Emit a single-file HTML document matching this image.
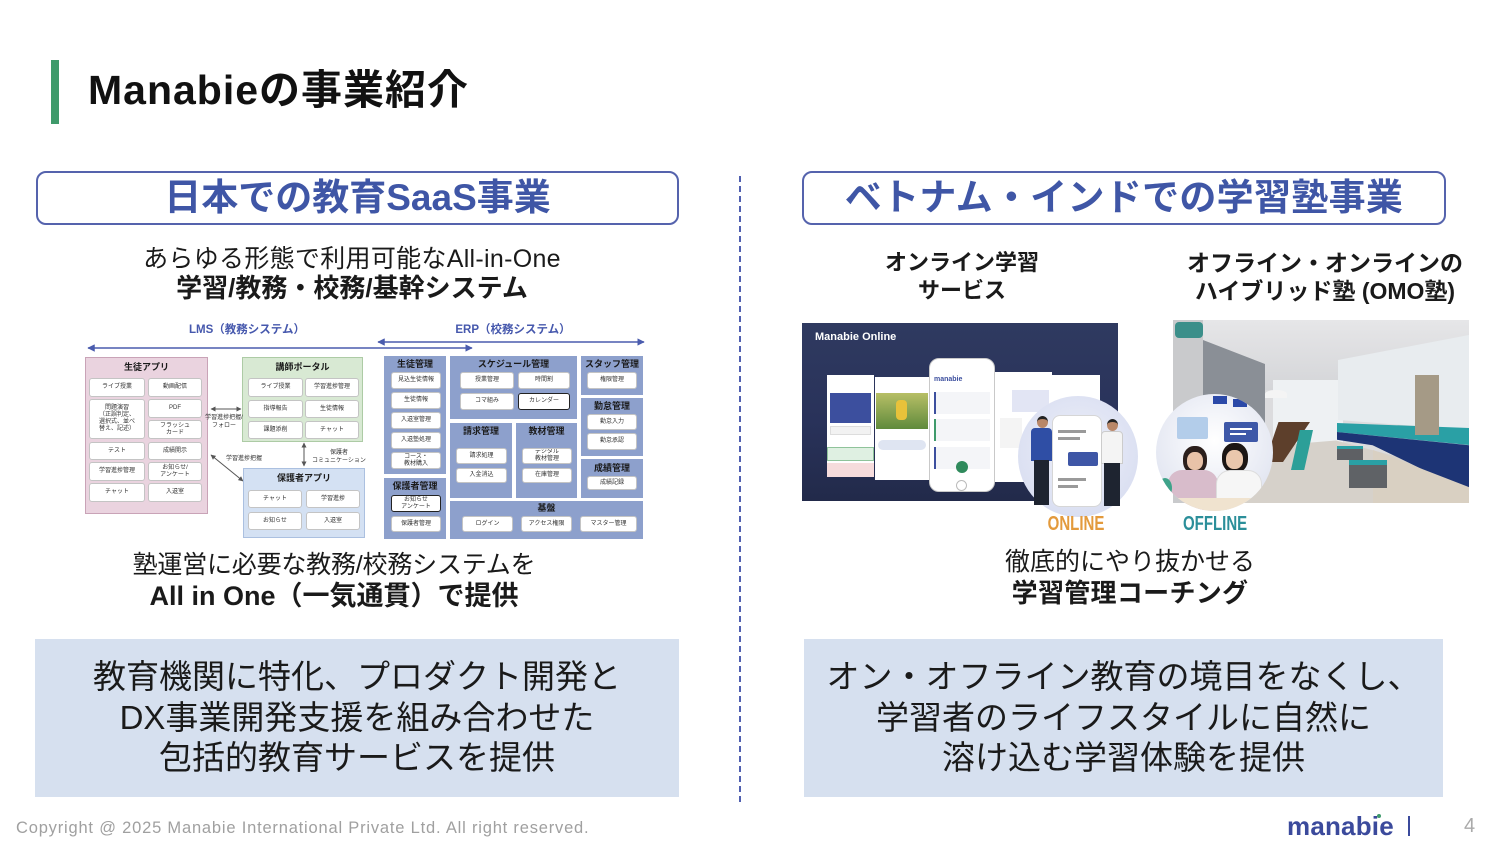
<!DOCTYPE html>
<html><head><meta charset="utf-8">
<style>
*{margin:0;padding:0;box-sizing:border-box}
body{width:1500px;height:845px;background:#fff;position:relative;overflow:hidden;font-family:"Liberation Sans","Noto Sans CJK JP",sans-serif;color:#1a1a1a}
.a{position:absolute}
.t{position:absolute;white-space:nowrap;text-align:center}
.hb{position:absolute;border:2px solid #5563ad;border-radius:10px;}
.b{position:absolute;background:#fff;border:1px solid #c4c4c4;border-radius:3px;display:flex;align-items:center;justify-content:center;text-align:center;font-size:6px;line-height:7px;color:#333;white-space:nowrap;overflow:hidden}
.bk{border-color:#222}
.bt{position:absolute;font-size:9px;font-weight:bold;text-align:center;line-height:10px;color:#1a1a1a;white-space:nowrap}
.e{position:absolute;background:#8da0cc}
.sm{position:absolute;font-size:6px;line-height:8px;color:#333;white-space:nowrap;text-align:center}
</style></head><body>

<!-- Header -->
<div class="a" style="left:51px;top:60px;width:8px;height:64px;background:#3f9a6b"></div>
<div class="t" style="left:88px;top:66px;font-size:41px;line-height:48px;font-weight:bold;color:#111;text-align:left;letter-spacing:1px">Manabieの事業紹介</div>

<!-- Section title boxes -->
<div class="hb" style="left:36px;top:171px;width:643px;height:54px"></div>
<div class="t" style="left:36px;top:175px;width:643px;font-size:37px;line-height:46px;font-weight:bold;color:#3f56a6">日本での教育SaaS事業</div>
<div class="hb" style="left:802px;top:171px;width:644px;height:54px"></div>
<div class="t" style="left:802px;top:175px;width:644px;font-size:37px;line-height:46px;font-weight:bold;color:#3f56a6;letter-spacing:0.3px">ベトナム・インドでの学習塾事業</div>

<!-- Dashed divider + arrows -->
<svg class="a" style="left:0;top:0" width="1500" height="845">
<defs>
<marker id="ah" viewBox="0 0 10 10" refX="9" refY="5" markerWidth="5" markerHeight="5" orient="auto-start-reverse"><path d="M0,0L10,5L0,10z" fill="#4a5cae"/></marker>
<marker id="ag" viewBox="0 0 10 10" refX="9" refY="5" markerWidth="5" markerHeight="5" orient="auto-start-reverse"><path d="M0,0L10,5L0,10z" fill="#555"/></marker>
</defs>
<line x1="740" y1="176" x2="740" y2="805" stroke="#5060b0" stroke-width="2" stroke-dasharray="6,4"/>
<line x1="88" y1="348" x2="472" y2="348" stroke="#4a5cae" stroke-width="1.5" marker-start="url(#ah)" marker-end="url(#ah)"/>
<line x1="378" y1="342" x2="644" y2="342" stroke="#4a5cae" stroke-width="1.5" marker-start="url(#ah)" marker-end="url(#ah)"/>
<line x1="211" y1="409" x2="241" y2="409" stroke="#555" stroke-width="1" marker-start="url(#ag)" marker-end="url(#ag)"/>
<line x1="211" y1="455" x2="243" y2="481" stroke="#555" stroke-width="1" marker-start="url(#ag)" marker-end="url(#ag)"/>
<line x1="304" y1="443" x2="304" y2="466" stroke="#555" stroke-width="1" marker-start="url(#ag)" marker-end="url(#ag)"/>
</svg>

<!-- Left subtitle -->
<div class="t" style="left:52px;top:244px;width:600px;font-size:25px;line-height:30px;letter-spacing:0.3px">あらゆる形態で利用可能なAll-in-One</div>
<div class="t" style="left:52px;top:273px;width:600px;font-size:26px;line-height:30px;font-weight:bold">学習/教務・校務/基幹システム</div>

<!-- LMS / ERP labels -->
<div class="t" style="left:167px;top:323px;width:160px;font-size:11.5px;line-height:14px;font-weight:bold;color:#4658ad">LMS（教務システム）</div>
<div class="t" style="left:433px;top:323px;width:160px;font-size:11.5px;line-height:14px;font-weight:bold;color:#4658ad">ERP（校務システム）</div>

<!-- 生徒アプリ -->
<div class="a" style="left:85px;top:357px;width:123px;height:157px;background:#ead3df;border:1px solid #c9a3b7"></div>
<div class="bt" style="left:85px;top:362px;width:123px">生徒アプリ</div>
<div class="b" style="left:89px;top:378px;width:56px;height:19px">ライブ授業</div>
<div class="b" style="left:148px;top:378px;width:54px;height:19px">動画配信</div>
<div class="b" style="left:89px;top:399px;width:56px;height:40px">問題演習<br>（正誤判定、<br>選択式、並べ<br>替え、記述）</div>
<div class="b" style="left:148px;top:399px;width:54px;height:19px">PDF</div>
<div class="b" style="left:148px;top:420px;width:54px;height:19px">フラッシュ<br>カード</div>
<div class="b" style="left:89px;top:442px;width:56px;height:18px">テスト</div>
<div class="b" style="left:148px;top:442px;width:54px;height:18px">成績開示</div>
<div class="b" style="left:89px;top:462px;width:56px;height:19px">学習進捗管理</div>
<div class="b" style="left:148px;top:462px;width:54px;height:19px">お知らせ/<br>アンケート</div>
<div class="b" style="left:89px;top:483px;width:56px;height:19px">チャット</div>
<div class="b" style="left:148px;top:483px;width:54px;height:19px">入退室</div>

<!-- 講師ポータル -->
<div class="a" style="left:242px;top:357px;width:121px;height:85px;background:#d8e9d3;border:1px solid #adcba5"></div>
<div class="bt" style="left:242px;top:362px;width:121px">講師ポータル</div>
<div class="b" style="left:248px;top:378px;width:55px;height:19px">ライブ授業</div>
<div class="b" style="left:305px;top:378px;width:54px;height:19px">学習進捗管理</div>
<div class="b" style="left:248px;top:400px;width:55px;height:18px">指導報告</div>
<div class="b" style="left:305px;top:400px;width:54px;height:18px">生徒情報</div>
<div class="b" style="left:248px;top:421px;width:55px;height:18px">課題添削</div>
<div class="b" style="left:305px;top:421px;width:54px;height:18px">チャット</div>

<!-- 保護者アプリ -->
<div class="a" style="left:243px;top:468px;width:122px;height:70px;background:#d4e1f3;border:1px solid #abc0e0"></div>
<div class="bt" style="left:243px;top:473px;width:122px">保護者アプリ</div>
<div class="b" style="left:248px;top:490px;width:54px;height:18px">チャット</div>
<div class="b" style="left:306px;top:490px;width:54px;height:18px">学習進捗</div>
<div class="b" style="left:248px;top:512px;width:54px;height:18px">お知らせ</div>
<div class="b" style="left:306px;top:512px;width:54px;height:18px">入退室</div>

<!-- connector labels -->
<div class="sm" style="left:200px;top:414px;width:48px">学習進捗把握/<br>フォロー</div>
<div class="sm" style="left:222px;top:455px;width:44px">学習進捗把握</div>
<div class="sm" style="left:308px;top:449px;width:62px">保護者<br>コミュニケーション</div>

<!-- ERP -->
<div class="e" style="left:384px;top:356px;width:62px;height:118px"></div>
<div class="bt" style="left:384px;top:359px;width:62px">生徒管理</div>
<div class="b" style="left:391px;top:372px;width:50px;height:17px">見込生徒情報</div>
<div class="b" style="left:391px;top:392px;width:50px;height:17px">生徒情報</div>
<div class="b" style="left:391px;top:412px;width:50px;height:17px">入退室管理</div>
<div class="b" style="left:391px;top:432px;width:50px;height:17px">入退塾処理</div>
<div class="b" style="left:391px;top:452px;width:50px;height:17px">コース・<br>教材購入</div>

<div class="e" style="left:384px;top:478px;width:62px;height:61px"></div>
<div class="bt" style="left:384px;top:481px;width:62px">保護者管理</div>
<div class="b bk" style="left:391px;top:495px;width:50px;height:17px">お知らせ<br>アンケート</div>
<div class="b" style="left:391px;top:516px;width:50px;height:16px">保護者管理</div>

<div class="e" style="left:450px;top:356px;width:127px;height:63px"></div>
<div class="bt" style="left:450px;top:359px;width:127px">スケジュール管理</div>
<div class="b" style="left:460px;top:372px;width:54px;height:17px">授業管理</div>
<div class="b" style="left:518px;top:372px;width:52px;height:17px">時間割</div>
<div class="b" style="left:460px;top:393px;width:54px;height:17px">コマ組み</div>
<div class="b bk" style="left:518px;top:393px;width:52px;height:17px">カレンダー</div>

<div class="e" style="left:450px;top:423px;width:62px;height:75px"></div>
<div class="bt" style="left:450px;top:426px;width:62px">請求管理</div>
<div class="b" style="left:456px;top:448px;width:51px;height:16px">請求処理</div>
<div class="b" style="left:456px;top:468px;width:51px;height:15px">入金消込</div>

<div class="e" style="left:516px;top:423px;width:61px;height:75px"></div>
<div class="bt" style="left:516px;top:426px;width:61px">教材管理</div>
<div class="b" style="left:522px;top:448px;width:50px;height:16px">デジタル<br>教材管理</div>
<div class="b" style="left:522px;top:468px;width:50px;height:15px">在庫管理</div>

<div class="e" style="left:581px;top:356px;width:62px;height:39px"></div>
<div class="bt" style="left:581px;top:359px;width:62px">スタッフ管理</div>
<div class="b" style="left:587px;top:372px;width:50px;height:17px">権限管理</div>

<div class="e" style="left:581px;top:398px;width:62px;height:58px"></div>
<div class="bt" style="left:581px;top:401px;width:62px">勤怠管理</div>
<div class="b" style="left:587px;top:414px;width:50px;height:16px">勤怠入力</div>
<div class="b" style="left:587px;top:433px;width:50px;height:17px">勤怠承認</div>

<div class="e" style="left:581px;top:459px;width:62px;height:39px"></div>
<div class="bt" style="left:581px;top:463px;width:62px">成績管理</div>
<div class="b" style="left:587px;top:476px;width:50px;height:14px">成績記録</div>

<div class="e" style="left:450px;top:501px;width:193px;height:38px"></div>
<div class="bt" style="left:450px;top:503px;width:193px">基盤</div>
<div class="b" style="left:462px;top:516px;width:51px;height:16px">ログイン</div>
<div class="b" style="left:521px;top:516px;width:51px;height:16px">アクセス権限</div>
<div class="b" style="left:580px;top:516px;width:57px;height:16px">マスター管理</div>

<!-- Left lower text -->
<div class="t" style="left:34px;top:550px;width:600px;font-size:25px;line-height:30px;letter-spacing:-0.2px">塾運営に必要な教務/校務システムを</div>
<div class="t" style="left:34px;top:581px;width:600px;font-size:27px;line-height:30px;font-weight:bold">All in One（一気通貫）で提供</div>

<div class="a" style="left:35px;top:639px;width:644px;height:158px;background:#d6e0ef"></div>
<div class="t" style="left:35px;top:657px;width:644px;font-size:33px;line-height:40.5px">教育機関に特化、プロダクト開発と<br>DX事業開発支援を組み合わせた<br>包括的教育サービスを提供</div>

<!-- Right headings -->
<div class="t" style="left:842px;top:249px;width:240px;font-size:22px;line-height:28px;font-weight:bold">オンライン学習<br>サービス</div>
<div class="t" style="left:1165px;top:249px;width:320px;font-size:23px;line-height:28px;font-weight:bold">オフライン・オンラインの<br>ハイブリッド塾 (OMO塾)</div>

<!-- Online image -->
<div class="a" style="left:802px;top:323px;width:316px;height:178px;background:linear-gradient(180deg,#2f3a60 0%,#29325a 55%,#222a4a 100%)"></div>
<div class="a" style="left:815px;top:330px;font-size:11px;line-height:14px;font-weight:bold;color:#fff;white-space:nowrap">Manabie Online</div>
<div class="a" style="left:827px;top:375px;width:47px;height:102px;background:#fff"></div>
<div class="a" style="left:830px;top:393px;width:41px;height:30px;background:#3c4f9e"></div>
<div class="a" style="left:830px;top:426px;width:41px;height:9px;background:#f2f2f2;border:1px solid #ddd"></div>
<div class="a" style="left:827px;top:447px;width:47px;height:14px;background:#dff0e2;border:1px solid #8fc39a"></div>
<div class="a" style="left:827px;top:463px;width:47px;height:14px;background:#f6dcdc"></div>
<div class="a" style="left:875px;top:377px;width:54px;height:103px;background:#fff"></div>
<div class="a" style="left:876px;top:393px;width:52px;height:36px;background:linear-gradient(180deg,#b7bf66,#5f8a3c)"></div>
<div class="a" style="left:896px;top:400px;width:11px;height:20px;background:#e8c23a;border-radius:4px"></div>
<div class="a" style="left:878px;top:440px;width:48px;height:10px;background:#dfe5f2;border-radius:5px"></div>
<div class="a" style="left:995px;top:372px;width:57px;height:110px;background:#fff"></div>
<div class="a" style="left:1012px;top:390px;width:37px;height:22px;background:#e2e5f4"></div>
<div class="a" style="left:1000px;top:418px;width:22px;height:30px;background:#f4f4f4"></div>
<div class="a" style="left:1052px;top:375px;width:48px;height:80px;background:#fff"></div>
<div class="a" style="left:929px;top:358px;width:66px;height:134px;background:#fff;border:1px solid #c9c9c9;border-radius:10px"></div>
<div class="a" style="left:934px;top:376px;font-size:7px;line-height:8px;color:#3c4f9e;font-weight:bold">manabie</div>
<div class="a" style="left:934px;top:392px;width:56px;height:22px;background:#f4f5f8;border-left:2px solid #3c4f9e"></div>
<div class="a" style="left:934px;top:419px;width:56px;height:22px;background:#f4f5f8;border-left:2px solid #3f9a6b"></div>
<div class="a" style="left:934px;top:447px;width:56px;height:22px;background:#f4f5f8;border-left:2px solid #3c4f9e"></div>
<div class="a" style="left:956px;top:461px;width:12px;height:12px;background:#2f8a5c;border-radius:50%"></div>
<div class="a" style="left:956px;top:480px;width:11px;height:11px;border:1px solid #bbb;border-radius:50%"></div>
<!-- online circle -->
<div class="a" style="left:1018px;top:396px;width:120px;height:121px;border-radius:50%;background:radial-gradient(circle at 50% 45%,#eef0f9,#d3d9ef)"></div>
<div class="a" style="left:1052px;top:415px;width:50px;height:92px;background:#fff;border:1px solid #d6d6d6;border-radius:8px"></div>
<div class="a" style="left:1058px;top:430px;width:28px;height:3px;background:#9a9a9a"></div>
<div class="a" style="left:1058px;top:437px;width:22px;height:3px;background:#9a9a9a"></div>
<div class="a" style="left:1068px;top:452px;width:30px;height:14px;background:#3e56a6;border-radius:2px"></div>
<div class="a" style="left:1058px;top:478px;width:28px;height:3px;background:#9a9a9a"></div>
<div class="a" style="left:1058px;top:485px;width:20px;height:3px;background:#9a9a9a"></div>
<div class="a" style="left:1037px;top:416px;width:11px;height:12px;background:#b98768;border-radius:50%;border-top:3px solid #222"></div>
<div class="a" style="left:1031px;top:428px;width:21px;height:33px;background:#2f4ea5;border-radius:4px 4px 0 0"></div>
<div class="a" style="left:1034px;top:460px;width:15px;height:45px;background:#1e2430"></div>
<div class="a" style="left:1107px;top:419px;width:11px;height:12px;background:#b98768;border-radius:50%;border-top:3px solid #222"></div>
<div class="a" style="left:1101px;top:431px;width:22px;height:33px;background:#f4f4f4;border:1px solid #ccc;border-radius:4px 4px 0 0"></div>
<div class="a" style="left:1104px;top:463px;width:16px;height:43px;background:#1e2430"></div>
<div class="t" style="left:1036px;top:513px;width:80px;font-size:20px;line-height:22px;font-weight:bold;color:#e39a3c;transform:scaleX(0.75)">ONLINE</div>

<!-- Offline image -->
<div class="a" style="left:1173px;top:320px;width:296px;height:183px;background:#dcdcde;overflow:hidden">
  <div class="a" style="left:0;top:0;width:296px;height:70px;background:linear-gradient(180deg,#e6e6e8,#d4d5d8)"></div>
  <div class="a" style="left:100px;top:60px;width:70px;height:70px;background:#eef1f3"></div>
  <div class="a" style="left:165px;top:15px;width:131px;height:100px;background:#e8ecef;clip-path:polygon(0 25%,100% 0,100% 95%,0 85%)"></div>
  <div class="a" style="left:0;top:0;width:30px;height:183px;background:#c9cacc"></div>
  <div class="a" style="left:30px;top:20px;width:62px;height:160px;background:#8a8f96;clip-path:polygon(0 0,100% 15%,100% 88%,0 100%)"></div>
  <div class="a" style="left:30px;top:115px;width:266px;height:68px;background:#d6d1ca;clip-path:polygon(0 100%,28% 15%,50% 8%,100% 60%,100% 100%)"></div>
  <div class="a" style="left:164px;top:103px;width:132px;height:22px;background:#2aa0a5;clip-path:polygon(0 0,100% 23%,100% 100%,0 41%)"></div>
  <div class="a" style="left:164px;top:112px;width:132px;height:60px;background:#1d3475;clip-path:polygon(0 0,100% 22%,100% 100%,100% 100%,27% 22%,0 13%)"></div>
  <div class="a" style="left:200px;top:130px;width:96px;height:53px;background:#d9d0c2;clip-path:polygon(0 0,100% 70%,100% 100%,0 100%)"></div>
  <div class="a" style="left:92px;top:102px;width:45px;height:40px;background:#5d3f2b;clip-path:polygon(30% 0,100% 0,40% 100%,0 100%)"></div>
  <div class="a" style="left:118px;top:110px;width:22px;height:40px;background:#2c9f98;clip-path:polygon(40% 0,100% 0,60% 100%,0 100%)"></div>
  <div class="a" style="left:164px;top:126px;width:26px;height:14px;background:#5e6064;border-top:3px solid #2aa0a5"></div>
  <div class="a" style="left:176px;top:140px;width:38px;height:28px;background:#5f6266;border-top:5px solid #2aa0a5"></div>
  <div class="a" style="left:242px;top:55px;width:24px;height:60px;background:#a59a86"></div>
  <div class="a" style="left:92px;top:70px;width:22px;height:8px;background:#f4f4f4;border-radius:50% 50% 0 0"></div>
  <div class="a" style="left:2px;top:2px;width:28px;height:16px;background:#3b8f8a;border-radius:4px"></div>
</div>
<!-- offline circle -->
<div class="a" style="left:1156px;top:394px;width:117px;height:117px;border-radius:50%;overflow:hidden;background:radial-gradient(circle at 50% 40%,#ffffff,#e6e9f3 65%,#d3d9ea)">
  <div class="a" style="left:21px;top:23px;width:31px;height:22px;background:#b3cdea;border-radius:2px"></div>
  <div class="a" style="left:68px;top:28px;width:34px;height:20px;background:#3e58a8;border-radius:2px"></div>
  <div class="a" style="left:74px;top:34px;width:22px;height:2px;background:#fff"></div>
  <div class="a" style="left:74px;top:39px;width:16px;height:2px;background:#fff"></div>
  <div class="a" style="left:57px;top:2px;width:14px;height:8px;background:#2b49a8"></div>
  <div class="a" style="left:77px;top:5px;width:14px;height:8px;background:#2b49a8"></div>
  <div class="a" style="left:27px;top:52px;width:24px;height:28px;background:#2b1f1c;border-radius:45%"></div>
  <div class="a" style="left:31px;top:58px;width:16px;height:18px;background:#e8c2a8;border-radius:45%"></div>
  <div class="a" style="left:12px;top:76px;width:50px;height:40px;background:#d8bccb;border-radius:14px 14px 0 0"></div>
  <div class="a" style="left:66px;top:49px;width:26px;height:30px;background:#1c1614;border-radius:45%"></div>
  <div class="a" style="left:70px;top:56px;width:17px;height:19px;background:#eac7ad;border-radius:45%"></div>
  <div class="a" style="left:60px;top:76px;width:46px;height:40px;background:#f6f6f6;border-radius:14px 14px 0 0;border:1px solid #ddd"></div>
  <div class="a" style="left:2px;top:84px;width:14px;height:20px;background:#3fa38a;border-radius:50%"></div>
  <div class="a" style="left:0;top:104px;width:117px;height:13px;background:#f0e3cf"></div>
</div>
<div class="t" style="left:1173px;top:513px;width:80px;font-size:20px;line-height:22px;font-weight:bold;color:#2b8f9a;transform:scaleX(0.75)">OFFLINE</div>

<!-- Right lower text -->
<div class="t" style="left:930px;top:547px;width:400px;font-size:25px;line-height:30px">徹底的にやり抜かせる</div>
<div class="t" style="left:930px;top:578px;width:400px;font-size:26px;line-height:30px;font-weight:bold;letter-spacing:0.3px">学習管理コーチング</div>

<div class="a" style="left:804px;top:639px;width:639px;height:158px;background:#d6e0ef"></div>
<div class="t" style="left:804px;top:657px;width:639px;font-size:33px;line-height:40.5px">オン・オフライン教育の境目をなくし、<br>学習者のライフスタイルに自然に<br>溶け込む学習体験を提供</div>

<!-- Footer -->
<div class="a" style="left:16px;top:818px;font-size:16.5px;line-height:20px;color:#a0a0a0;white-space:nowrap;letter-spacing:0.8px">Copyright @ 2025 Manabie International Private Ltd. All right reserved.</div>
<div class="a" style="left:1287px;top:811px;font-size:26px;line-height:30px;font-weight:bold;color:#3b4a9c;white-space:nowrap;letter-spacing:0.2px">manabie</div>
<div class="a" style="left:1377px;top:814px;width:4px;height:4px;border-radius:50%;background:#3f9a6b"></div>
<div class="a" style="left:1408px;top:816px;width:2px;height:20px;background:#3b4a9c"></div>
<div class="a" style="left:1464px;top:814px;font-size:20px;line-height:24px;color:#aaa">4</div>

</body></html>
